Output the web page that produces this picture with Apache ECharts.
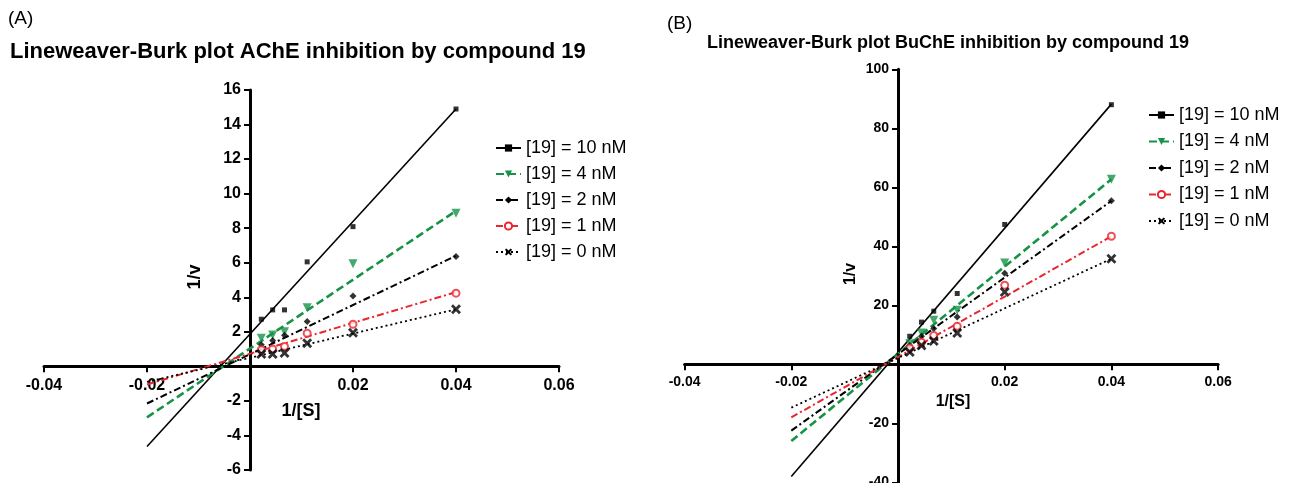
<!DOCTYPE html>
<html>
<head>
<meta charset="utf-8">
<script src="https://cdn.jsdelivr.net/npm/echarts@6/dist/echarts.min.js"></script>
<style>
html,body{margin:0;padding:0;background:#fff;}
#chart{width:1289px;height:483px;}
</style>
</head>
<body>
<div id="chart"></div>
<script>
// ---------------- DATA ----------------
const seriesNames = ['[19] = 10 nM', '[19] = 4 nM', '[19] = 2 nM', '[19] = 1 nM', '[19] = 0 nM'];
const invS = [0.0022, 0.0044, 0.0067, 0.0111, 0.02, 0.04];   // 1/[S]
const fitX = [-0.02, 0.04];                                   // extent of fitted lines

// Panel A (AChE) measured 1/v
const achE10 = [2.73, 3.27, 3.27, 6.05, 8.09, 14.9];
const achE4  = [1.63, 1.82, 2.0, 3.4, 5.94, 8.87];
const achE2  = [1.25, 1.5, 1.8, 2.6, 4.08, 6.36];
const achE1  = [0.96, 1.01, 1.15, 1.92, 2.44, 4.24];
const achE0  = [0.72, 0.72, 0.78, 1.34, 1.95, 3.31];
// Panel A fitted line values at fitX
const achEFit10 = [-4.64, 14.9];
const achEFit4  = [-2.95, 9.0];
const achEFit2  = [-2.15, 6.4];
const achEFit1  = [-1.05, 4.3];
const achEFit0  = [-0.9, 3.3];

// Panel B (BuChE) measured 1/v
const buchE10 = [9.5, 14.3, 18.0, 24.0, 47.4, 88.0];
const buchE4  = [7.0, 10.6, 14.9, 18.3, 34.3, 62.7];
const buchE2  = [6.4, 9.5, 12.1, 16.0, 30.9, 55.4];
const buchE1  = [5.5, 7.5, 9.8, 12.9, 26.8, 43.4];
const buchE0  = [4.2, 6.4, 7.9, 10.6, 24.5, 35.8];
// Panel B fitted line values at fitX
const buchEFit10 = [-38.0, 88.2];
const buchEFit4  = [-26.0, 62.7];
const buchEFit2  = [-22.5, 55.4];
const buchEFit1  = [-18.0, 43.4];
const buchEFit0  = [-14.7, 35.8];

// Axis tick settings
const xTicks = {min: -0.04, max: 0.06, interval: 0.02};
const yTicksA = {min: -6, max: 16, interval: 2};
const yTicksB = {min: -40, max: 100, interval: 20};

// ---------------- STYLES ----------------
const GREEN = '#179247';
const RED = '#e8262d';
const FONT = 'Liberation Sans, Arial, sans-serif';
const X_PATH = 'path://M2,0 L5,3 L8,0 L10,2 L7,5 L10,8 L8,10 L5,7 L2,10 L0,8 L3,5 L0,2 Z';

const styles = [
  {color: '#000', line: {type: 'solid', width: 1.6}, symbol: 'rect', size: 5, item: {color: '#000'}},
  {color: GREEN, line: {type: [8, 4], width: 2.6}, symbol: 'triangle', rotate: 180, size: 9, item: {color: GREEN}},
  {color: '#000', line: {type: [7, 3, 2, 3], width: 2}, symbol: 'diamond', size: 7, item: {color: '#000'}},
  {color: RED, line: {type: [7, 3, 2, 3], width: 2}, symbol: 'circle', size: 7, item: {color: '#fff', borderColor: RED, borderWidth: 2}},
  {color: '#000', line: {type: [2, 3], width: 1.8}, symbol: X_PATH, size: 10, item: {color: '#000'}}
];

const panelA = {pts: [achE10, achE4, achE2, achE1, achE0], fit: [achEFit10, achEFit4, achEFit2, achEFit1, achEFit0]};
const panelB = {pts: [buchE10, buchE4, buchE2, buchE1, buchE0], fit: [buchEFit10, buchEFit4, buchEFit2, buchEFit1, buchEFit0]};

function hideZero(v) { return Math.abs(v) < 1e-9 ? '' : String(+(+v).toFixed(4)); }

function xAxis(gi, fontSize) {
  return {
    type: 'value', gridIndex: gi, position: 'bottom', min: xTicks.min, max: xTicks.max, interval: xTicks.interval,
    axisLine: {show: true, onZero: false, lineStyle: {color: '#000', width: 3}},
    axisTick: {show: true, length: 6, lineStyle: {color: '#000', width: 2}},
    splitLine: {show: false},
    axisLabel: {color: '#000', fontFamily: FONT, fontWeight: 'bold', fontSize: fontSize, margin: 11, formatter: hideZero}
  };
}
function yAxis(gi, t, fontSize) {
  return {
    type: 'value', gridIndex: gi, position: 'left', min: t.min, max: t.max, interval: t.interval,
    axisLine: {show: true, onZero: false, lineStyle: {color: '#000', width: 3}},
    axisTick: {show: true, length: 6, lineStyle: {color: '#000', width: 2}},
    splitLine: {show: false},
    axisLabel: {color: '#000', fontFamily: FONT, fontWeight: 'bold', fontSize: fontSize, margin: 9, formatter: hideZero}
  };
}

function buildSeries(panel, gi) {
  const out = [];
  panel.fit.forEach((f, i) => {
    const s = styles[i];
    out.push({
      type: 'line', name: seriesNames[i], xAxisIndex: gi, yAxisIndex: gi,
      data: fitX.map((x, k) => [x, f[k]]),
      symbol: s.symbol, symbolRotate: s.rotate || 0, symbolSize: s.size, showSymbol: false,
      lineStyle: {color: s.color, type: s.line.type, width: s.line.width},
      itemStyle: s.item, silent: true, z: 2, animation: false
    });
  });
  panel.pts.forEach((p, i) => {
    const s = styles[i];
    out.push({
      type: 'scatter', name: seriesNames[i], xAxisIndex: gi, yAxisIndex: gi,
      data: invS.map((x, k) => [x, p[k]]),
      symbol: s.symbol, symbolRotate: s.rotate || 0, symbolSize: s.size,
      itemStyle: s.item, z: 3, animation: false
    });
  });
  return out;
}

function legend(left, top, gap) {
  return {
    data: seriesNames, orient: 'vertical', left: left, top: top,
    itemWidth: 25, itemHeight: 9, itemGap: gap,
    textStyle: {color: '#000', fontFamily: FONT, fontSize: 18},
    selectedMode: false
  };
}

function txt(x, y, text, size, weight, extra) {
  return Object.assign({
    type: 'text', x: x, y: y, silent: true,
    style: {text: text, fill: '#000', font: (weight || 'normal') + ' ' + size + 'px ' + FONT,
      textAlign: 'center', textVerticalAlign: 'middle'}
  }, extra || {});
}
function ltxt(x, y, text, size, weight) {
  return {type: 'text', x: x, y: y, silent: true,
    style: {text: text, fill: '#000', font: (weight || 'normal') + ' ' + size + 'px ' + FONT, textAlign: 'left', textVerticalAlign: 'middle'}};
}

const chart = echarts.init(document.getElementById('chart'));
chart.setOption({
  animation: false,
  backgroundColor: '#fff',
  grid: [
    {left: 44, top: 90, width: 515, height: 380, containLabel: false, outerBoundsMode: 'none'},
    {left: 684.6, top: 69.3, width: 533.5, height: 413, containLabel: false, outerBoundsMode: 'none'}
  ],
  xAxis: [xAxis(0, 16), xAxis(1, 14)],
  yAxis: [yAxis(0, yTicksA, 16), yAxis(1, yTicksB, 14)],
  legend: [legend(490, 134, 8), legend(1143, 101, 8.5)],
  series: buildSeries(panelA, 0).concat(buildSeries(panelB, 1)),
  graphic: [
    ltxt(8, 19, '(A)', 19),
    ltxt(10, 52, 'Lineweaver-Burk plot AChE inhibition by compound 19', 22, 'bold'),
    ltxt(667, 24, '(B)', 19),
    ltxt(707, 43, 'Lineweaver-Burk plot BuChE inhibition by compound 19', 18, 'bold'),
    txt(195, 277, '1/v', 18, 'bold', {rotation: Math.PI / 2}),
    txt(301, 411, '1/[S]', 18, 'bold'),
    txt(851, 274, '1/v', 16, 'bold', {rotation: Math.PI / 2}),
    txt(953, 402, '1/[S]', 16, 'bold')
  ]
});

// Move both axes so they cross at the origin (x axis at y=0, y axis at x=0)
const yTicksList = [yTicksA, yTicksB];
const xOff = [], yOff = [];
[0, 1].forEach(gi => {
  const origin = chart.convertToPixel({gridIndex: gi}, [0, 0]);
  const corner = chart.convertToPixel({gridIndex: gi}, [xTicks.min, yTicksList[gi].min]);
  xOff.push(origin[1] - corner[1]);   // negative: move x axis up to y = 0
  yOff.push(corner[0] - origin[0]);   // negative: move y axis right to x = 0
});
chart.setOption({
  xAxis: [{offset: xOff[0]}, {offset: xOff[1]}],
  yAxis: [{offset: yOff[0]}, {offset: yOff[1]}]
});
</script>
</body>
</html>
